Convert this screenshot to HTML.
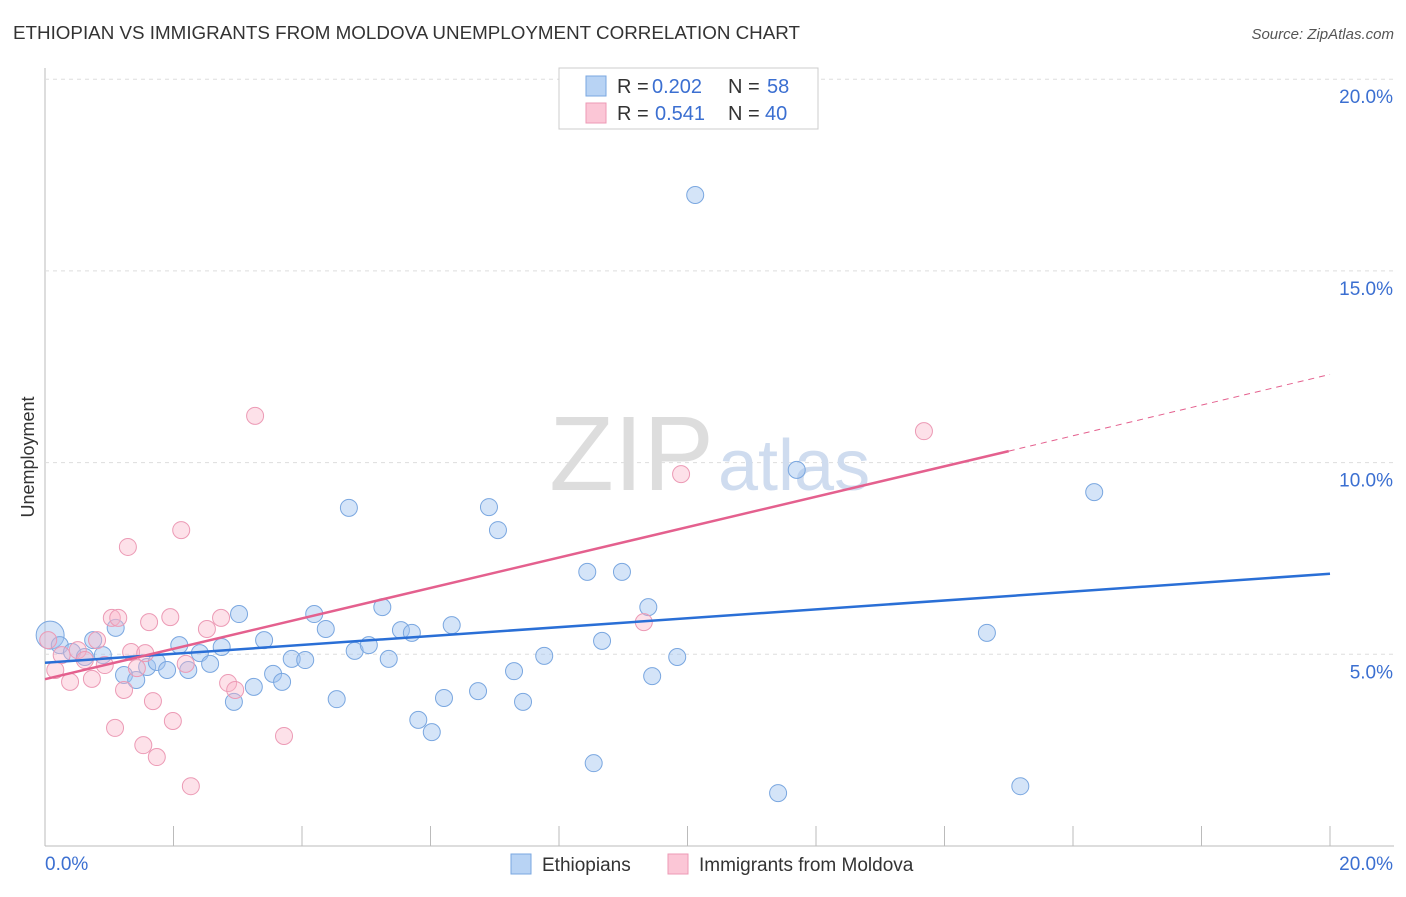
<!DOCTYPE html>
<html><head><meta charset="utf-8"><style>
body{margin:0;background:#fff;font-family:"Liberation Sans",sans-serif}
svg text{font-family:"Liberation Sans",sans-serif}
</style></head><body>
<svg id="c" width="1406" height="892">
<text x="13" y="39" font-size="18" fill="#333" textLength="787" lengthAdjust="spacingAndGlyphs">ETHIOPIAN VS IMMIGRANTS FROM MOLDOVA UNEMPLOYMENT CORRELATION CHART</text>
<text x="1394" y="39" font-size="15" fill="#555" font-style="italic" text-anchor="end">Source: ZipAtlas.com</text>
<text x="34" y="457" font-size="18" fill="#333" text-anchor="middle" transform="rotate(-90 34 457)">Unemployment</text>
<g id="grid"></g>
<text x="714" y="490" font-size="106" fill="#ddd" text-anchor="end" font-family="Liberation Serif">ZIP</text>
<text x="718" y="490" font-size="72" fill="#cfdcef">atlas</text>
<g id="pts"></g>
<g id="lines"></g>
<g>
<rect x="559" y="68" width="259" height="61" fill="#fff" stroke="#ccc"/>
<rect x="586" y="76" width="20" height="20" fill="#b8d3f4" stroke="#7aa7e0"/>
<rect x="586" y="103" width="20" height="20" fill="#fbc6d6" stroke="#ec9ab5"/>
<text y="93" font-size="20" fill="#333"><tspan x="617">R =</tspan><tspan x="652" fill="#3b6fd1">0.202</tspan><tspan x="728">N =</tspan><tspan x="767" fill="#3b6fd1">58</tspan></text>
<text y="120" font-size="20" fill="#333"><tspan x="617">R =</tspan><tspan x="655" fill="#3b6fd1">0.541</tspan><tspan x="728">N =</tspan><tspan x="765" fill="#3b6fd1">40</tspan></text>
</g>
<g>
<rect x="511" y="854" width="20" height="20" fill="#b8d3f4" stroke="#7aa7e0"/>
<text x="542" y="871" font-size="19" fill="#333">Ethiopians</text>
<rect x="668" y="854" width="20" height="20" fill="#fbc6d6" stroke="#ec9ab5"/>
<text x="699" y="871" font-size="19" fill="#333">Immigrants from Moldova</text>
</g>
</svg>
<script>
const yTicks=[5,10,15,20];
const yTickLabels=["5.0%","10.0%","15.0%","20.0%"];
const blueX=[0.08,0.23,0.42,0.62,0.75,0.90,1.10,1.23,1.42,1.59,1.74,1.90,2.09,2.23,2.41,2.57,2.75,2.94,3.02,3.25,3.41,3.55,3.69,3.84,4.05,4.19,4.37,4.54,4.73,4.82,5.04,5.25,5.35,5.54,5.71,5.81,6.02,6.21,6.33,6.74,6.91,7.05,7.30,7.44,7.77,8.44,8.54,8.67,8.98,9.39,9.45,9.84,10.12,11.41,11.70,14.66,15.18,16.33];
const blueY=[5.50,5.24,5.06,4.93,5.37,4.98,5.69,4.46,4.33,4.67,4.80,4.59,5.24,4.59,5.03,4.75,5.19,3.76,6.05,4.15,5.37,4.49,4.28,4.88,4.85,6.05,5.66,3.83,8.82,5.09,5.24,6.23,4.88,5.63,5.56,3.29,2.97,3.86,5.76,4.04,8.84,8.24,4.56,3.76,4.96,7.15,2.16,5.35,7.15,6.23,4.43,4.93,16.98,1.38,9.81,5.56,1.56,9.23];
const pinkX=[0.05,0.16,0.26,0.39,0.51,0.62,0.73,0.81,0.93,1.04,1.09,1.14,1.23,1.29,1.34,1.43,1.53,1.56,1.62,1.68,1.74,1.95,1.99,2.12,2.19,2.27,2.52,2.74,2.85,2.96,3.27,3.72,9.32,9.90,13.68];
const pinkY=[5.37,4.59,4.98,4.28,5.11,4.85,4.36,5.37,4.72,5.95,3.08,5.95,4.07,7.80,5.06,4.64,2.63,5.03,5.84,3.78,2.32,5.97,3.26,8.24,4.75,1.56,5.66,5.95,4.25,4.07,11.22,2.87,5.84,9.70,10.82];
const blueTrend=[0,4.78,20,7.10];
const pinkTrend=[0,4.35,15,10.30,20,12.30];
const X=v=>45+v*64.25, Y=v=>846-v*38.34;
const NS="http://www.w3.org/2000/svg";
function mk(t,a,p){const e=document.createElementNS(NS,t);for(const k in a)e.setAttribute(k,a[k]);p.appendChild(e);return e;}
const g=document.getElementById('grid');
let ax=mk('line',{x1:45,y1:68,x2:45,y2:846,stroke:'#bbb'},g);


let bx=mk('line',{x1:45,y1:846,x2:1394,y2:846,stroke:'#bbb'},g);


yTicks.forEach((t,i)=>{
 const l=mk('line',{x1:45,x2:1394,y1:Y(t),y2:Y(t),stroke:'#ddd','stroke-dasharray':'4,4'},g);
 
 
 const tx=mk('text',{x:1393,y:Y(t)+24,'font-size':19,fill:'#3b6fd1','text-anchor':'end'},g);
 tx.textContent=yTickLabels[i];
 
 
});
for(let i=0;i<=10;i++){
 const l=mk('line',{x1:X(i*2),x2:X(i*2),y1:826,y2:846,stroke:'#bbb'},g);
 
 
}
[["0.0%",45,'start'],["20.0%",1393,'end']].forEach(a=>{
 const tx=mk('text',{x:a[1],y:870,'font-size':19,fill:'#3b6fd1','text-anchor':a[2]},g);
 tx.textContent=a[0];
 
 
});
const P=document.getElementById('pts');
blueX.forEach((x,i)=>{
 const c=mk('circle',{cx:X(x),cy:Y(blueY[i]),r:i==0?14:8.5,fill:'rgba(160,196,240,0.45)',stroke:'#7aa7e0','stroke-width':1},P);
 
 
});
pinkX.forEach((x,i)=>{
 const c=mk('circle',{cx:X(x),cy:Y(pinkY[i]),r:8.5,fill:'rgba(250,180,200,0.4)',stroke:'#ec9ab5','stroke-width':1},P);
 
 
});
const L=document.getElementById('lines');
let b=mk('line',{x1:X(blueTrend[0]),y1:Y(blueTrend[1]),x2:X(blueTrend[2]),y2:Y(blueTrend[3]),stroke:'#2a6fd6','stroke-width':2.5},L);


let p=mk('line',{x1:X(pinkTrend[0]),y1:Y(pinkTrend[1]),x2:X(pinkTrend[2]),y2:Y(pinkTrend[3]),stroke:'#e4608e','stroke-width':2.5},L);


let pd=mk('line',{x1:X(pinkTrend[2]),y1:Y(pinkTrend[3]),x2:X(pinkTrend[4]),y2:Y(pinkTrend[5]),stroke:'#e4608e','stroke-width':1,'stroke-dasharray':'6,5'},L);


</script>
</body></html>
